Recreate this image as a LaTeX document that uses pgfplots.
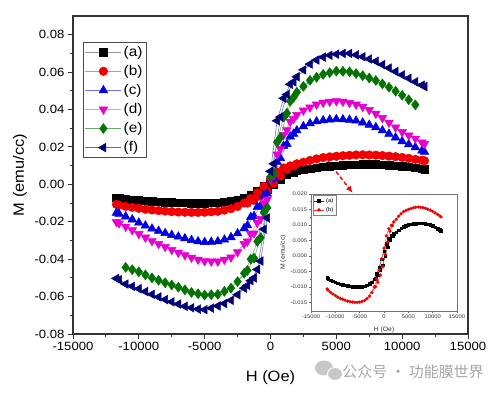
\documentclass[border=0pt]{standalone}
\usepackage{fontspec}
\setmainfont[FakeStretch=1.1]{Liberation Sans}
\newfontfamily\cjk{Noto Sans CJK SC}
\usepackage{pgfplots}
\pgfplotsset{compat=1.18}
\usepackage{pgfplotstable}
\usetikzlibrary{arrows.meta}

\definecolor{ored}{RGB}{240,0,0}
\definecolor{oblue}{RGB}{0,0,225}
\definecolor{omag}{RGB}{230,0,210}
\definecolor{ogreen}{RGB}{0,115,0}
\definecolor{onavy}{RGB}{0,0,120}

\pgfplotstableread{
H M
11700 0.0082
11000 0.0088
10000 0.0097
9000 0.0103
8000 0.0106
7000 0.0106
6000 0.0104
5000 0.0100
4000 0.0094
3000 0.0083
2000 0.0072
1500 0.0065
1000 0.0056
500 0.0040
0 0.0015
-500 -0.0010
-1000 -0.0036
-1500 -0.0058
-2000 -0.0075
-3000 -0.0090
-4000 -0.0098
-5000 -0.0100
-6000 -0.0100
-7000 -0.0098
-8000 -0.0095
-9000 -0.0091
-10000 -0.0085
-11000 -0.0078
-11700 -0.0071
-11500 -0.0073
-10500 -0.0082
-9500 -0.0088
-8500 -0.0093
-7500 -0.0097
-6500 -0.0099
-5500 -0.0100
-4500 -0.0099
-3500 -0.0094
-2500 -0.0085
-1750 -0.0074
-1250 -0.0062
-750 -0.0045
-250 -0.0030
250 0.0000
750 0.0028
1250 0.0052
1750 0.0064
2500 0.0077
3500 0.0089
4500 0.0097
5500 0.0102
6500 0.0105
7500 0.0106
8500 0.0105
9500 0.0100
10500 0.0093
11500 0.0084
}\dataA

\pgfplotstableread{
H M
11700 0.0126
11000 0.0134
10000 0.0144
9000 0.0151
8000 0.0156
7000 0.0158
6000 0.0155
5000 0.0150
4000 0.0143
3000 0.0128
2000 0.0110
1500 0.0099
1000 0.0088
500 0.0065
0 0.0025
-500 -0.0010
-1000 -0.0045
-1500 -0.0075
-2000 -0.0100
-3000 -0.0130
-4000 -0.0144
-5000 -0.0149
-6000 -0.0150
-7000 -0.0148
-8000 -0.0143
-9000 -0.0137
-10000 -0.0128
-11000 -0.0118
-11700 -0.0107
-11500 -0.0111
-10500 -0.0123
-9500 -0.0133
-8500 -0.0140
-7500 -0.0146
-6500 -0.0149
-5500 -0.0150
-4500 -0.0147
-3500 -0.0138
-2500 -0.0118
-1750 -0.0100
-1250 -0.0085
-750 -0.0062
-250 -0.0035
250 0.0005
750 0.0045
1250 0.0080
1750 0.0098
2500 0.0118
3500 0.0136
4500 0.0147
5500 0.0153
6500 0.0157
7500 0.0157
8500 0.0154
9500 0.0148
10500 0.0139
11500 0.0129
}\dataB

\pgfplotstableread{
H M
11700 0.0173
11000 0.0198
10000 0.0230
9000 0.0270
8000 0.0305
7000 0.0330
6000 0.0345
5000 0.0348
4000 0.0342
3000 0.0326
2000 0.0288
1500 0.0255
1000 0.0205
500 0.0120
0 0.0025
-500 -0.0060
-1000 -0.0120
-1500 -0.0175
-2000 -0.0235
-3000 -0.0283
-4000 -0.0305
-5000 -0.0309
-6000 -0.0298
-7000 -0.0280
-8000 -0.0261
-9000 -0.0237
-10000 -0.0205
-11000 -0.0172
-11700 -0.0152
-11500 -0.0158
-10500 -0.0188
-9500 -0.0221
-8500 -0.0249
-7500 -0.0271
-6500 -0.0289
-5500 -0.0305
-4500 -0.0308
-3500 -0.0296
-2500 -0.0262
-1750 -0.0220
-1250 -0.0170
-750 -0.0115
-250 -0.0050
250 0.0035
750 0.0140
1250 0.0215
1750 0.0270
2500 0.0310
3500 0.0336
4500 0.0346
5500 0.0347
6500 0.0340
7500 0.0318
8500 0.0288
9500 0.0250
10500 0.0214
11500 0.0180
}\dataC

\pgfplotstableread{
H M
11700 0.0217
11000 0.0245
10000 0.0280
9000 0.0330
8000 0.0378
7000 0.0415
6000 0.0436
5000 0.0445
4000 0.0437
3000 0.0412
2000 0.0372
1500 0.0335
1000 0.0265
500 0.0160
0 0.0030
-500 -0.0100
-1000 -0.0205
-1500 -0.0265
-2000 -0.0318
-3000 -0.0390
-4000 -0.0412
-5000 -0.0410
-6000 -0.0392
-7000 -0.0365
-8000 -0.0334
-9000 -0.0303
-10000 -0.0265
-11000 -0.0226
-11700 -0.0201
-11500 -0.0208
-10500 -0.0245
-9500 -0.0284
-8500 -0.0318
-7500 -0.0350
-6500 -0.0378
-5500 -0.0402
-4500 -0.0412
-3500 -0.0402
-2500 -0.0362
-1750 -0.0305
-1250 -0.0262
-750 -0.0185
-250 -0.0080
250 0.0050
750 0.0190
1250 0.0290
1750 0.0350
2500 0.0395
3500 0.0427
4500 0.0442
5500 0.0442
6500 0.0427
7500 0.0398
8500 0.0355
9500 0.0305
10500 0.0262
11500 0.0225
}\dataD

\pgfplotstableread{
H M
11000 0.0425
10000 0.0476
9000 0.0519
8000 0.0555
7000 0.0581
6000 0.0602
5000 0.0605
4000 0.0588
3000 0.0556
2000 0.0492
1500 0.0445
1000 0.0360
500 0.0225
0 0.0040
-500 -0.0150
-1000 -0.0305
-1500 -0.0400
-2000 -0.0475
-3000 -0.0555
-4000 -0.0588
-5000 -0.0592
-6000 -0.0578
-7000 -0.0550
-8000 -0.0526
-9000 -0.0500
-10000 -0.0468
-11000 -0.0444
-10500 -0.0456
-9500 -0.0484
-8500 -0.0513
-7500 -0.0538
-6500 -0.0564
-5500 -0.0585
-4500 -0.0590
-3500 -0.0572
-2500 -0.0520
-1750 -0.0460
-1250 -0.0395
-750 -0.0285
-250 -0.0125
250 0.0060
750 0.0250
1250 0.0380
1750 0.0465
2500 0.0524
3500 0.0572
4500 0.0597
5500 0.0604
6500 0.0592
7500 0.0568
8500 0.0537
9500 0.0498
10500 0.0452
}\dataE

\pgfplotstableread{
H M
11700 0.0523
11000 0.0548
10000 0.0585
9000 0.0622
8000 0.0658
7000 0.0682
6000 0.0700
5000 0.0696
4000 0.0680
3000 0.0643
2000 0.0575
1500 0.0535
1000 0.0460
500 0.0340
0 0.0070
-500 -0.0240
-1000 -0.0455
-1500 -0.0515
-2000 -0.0555
-3000 -0.0620
-4000 -0.0650
-5000 -0.0670
-6000 -0.0660
-7000 -0.0640
-8000 -0.0616
-9000 -0.0588
-10000 -0.0558
-11000 -0.0533
-11700 -0.0503
-11500 -0.0510
-10500 -0.0545
-9500 -0.0573
-8500 -0.0602
-7500 -0.0628
-6500 -0.0652
-5500 -0.0667
-4500 -0.0662
-3500 -0.0637
-2500 -0.0590
-1750 -0.0540
-1250 -0.0500
-750 -0.0410
-250 -0.0180
250 0.0110
750 0.0360
1250 0.0480
1750 0.0548
2500 0.0612
3500 0.0665
4500 0.0690
5500 0.0700
6500 0.0692
7500 0.0670
8500 0.0640
9500 0.0603
10500 0.0567
11500 0.0530
}\dataF

\begin{document}
\begin{tikzpicture}
\path[use as bounding box] (-73bp,-59bp) rectangle (424bp,334bp);
\begin{axis}[
  name=main,
  at={(0bp,0bp)}, anchor=south west,
  scale only axis, width=395bp, height=318bp,
  xmin=-15000, xmax=15000, ymin=-0.08, ymax=0.09,
  xtick={-15000,-10000,-5000,0,5000,10000,15000},
  xticklabels={-15000,-10000,-5000,0,5000,10000,15000},
  ytick={-0.08,-0.06,-0.04,-0.02,0,0.02,0.04,0.06,0.08},
  yticklabels={-0.08,-0.06,-0.04,-0.02,0.00,0.02,0.04,0.06,0.08},
  minor xtick={-12500,-7500,-2500,2500,7500,12500},
  minor ytick={-0.07,-0.05,-0.03,-0.01,0.01,0.03,0.05,0.07},
  scaled ticks=false,
  xtick pos=bottom, ytick pos=left,
  tick align=outside,
  major tick length=5bp, minor tick length=3bp,
  tick style={black!80, line width=0.9bp},
  axis line style={black!80, line width=1.2bp},
  ticklabel style={font=\fontsize{12}{14}\selectfont},
  xlabel={H (Oe)}, ylabel={M (emu/cc)},
  label style={font=\fontsize{15}{17}\selectfont},
  xlabel style={at={(axis description cs:0.5,-0.148)}, anchor=base},
  ylabel style={at={(axis description cs:-0.134,0.5)}, anchor=center},
  legend style={at={(axis description cs:0.025,0.918)}, anchor=north west,
    draw=black!70, line width=0.6bp, font=\fontsize{14}{15}\selectfont,
    row sep=3.5bp, inner sep=2bp, cells={anchor=west}},
  legend image code/.code={\draw[mark repeat=2,mark phase=2] plot coordinates {(0bp,0bp) (18bp,0bp) (36bp,0bp)};},
  every axis plot/.append style={line width=0.5bp},
]
\addplot[color=black!40, mark=square*, mark size=3.8, mark options={solid,draw=black,fill=black}] table[x=H,y=M]{\dataA};
\addlegendentry{(a)}
\addplot[color=ored!50, mark=*, mark size=4.3, mark options={solid,draw=ored,fill=ored}] table[x=H,y=M]{\dataB};
\addlegendentry{(b)}
\addplot[color=oblue!55, mark=triangle*, mark size=5, mark options={solid,draw=oblue,fill=oblue}] table[x=H,y=M]{\dataC};
\addlegendentry{(c)}
\addplot[color=omag!45, mark=triangle*, mark size=5, mark options={solid,rotate=180,draw=omag,fill=omag}] table[x=H,y=M]{\dataD};
\addlegendentry{(d)}
\addplot[color=ogreen!60, mark=diamond*, mark size=5, mark options={solid,draw=ogreen,fill=ogreen}] table[x=H,y=M]{\dataE};
\addlegendentry{(e)}
\addplot[color=onavy!60, mark=triangle*, mark size=5, mark options={solid,rotate=90,draw=onavy,fill=onavy}] table[x=H,y=M]{\dataF};
\addlegendentry{(f)}
\draw[ored, line width=1.4bp, dash pattern=on 4bp off 2.5bp, -{Latex[length=7bp,width=6bp]}] (axis cs:4370,0.0123) -- (axis cs:6250,-0.0046);
\end{axis}

\begin{axis}[
  name=inset,
  at={(238bp,23bp)}, anchor=south west,
  scale only axis, width=146bp, height=117bp,
  axis background/.style={fill=white},
  xmin=-15000, xmax=15000, ymin=-0.0178, ymax=0.020,
  xtick={-15000,-10000,-5000,0,5000,10000,15000},
  xticklabels={-15000,-10000,-5000,0,5000,10000,15000},
  ytick={-0.015,-0.01,-0.005,0,0.005,0.01,0.015,0.02},
  yticklabels={-0.015,-0.010,-0.005,0.000,0.005,0.010,0.015,0.020},
  minor xtick={-12500,-7500,-2500,2500,7500,12500},
  minor ytick={-0.0125,-0.0075,-0.0025,0.0025,0.0075,0.0125,0.0175},
  scaled ticks=false,
  xtick pos=bottom, ytick pos=left,
  tick align=outside,
  major tick length=2.2bp, minor tick length=1.3bp,
  tick style={black!60, line width=0.5bp},
  axis line style={black!55, line width=0.6bp},
  ticklabel style={font=\fontsize{5.3}{6}\selectfont, inner sep=1.5bp, text=black!80},
  xlabel={H (Oe)}, ylabel={M (emu/cc)},
  label style={font=\fontsize{6.3}{7}\selectfont, text=black!80},
  xlabel style={at={(axis description cs:0.5,-0.11)}, anchor=north},
  ylabel style={at={(axis description cs:-0.19,0.5)}, anchor=center},
  legend style={at={(axis description cs:0.012,0.99)}, anchor=north west,
    draw=black!50, line width=0.4bp, font=\fontsize{5.5}{6}\selectfont,
    row sep=-0.5bp, inner sep=0.8bp, cells={anchor=west}},
  legend image code/.code={\draw[mark repeat=2,mark phase=2] plot coordinates {(0bp,0bp) (5bp,0bp) (10bp,0bp)};},
  every axis plot/.append style={line width=0.35bp},
]
\addplot[color=black!80, mark=square*, mark size=1.3, mark options={solid,draw=black,fill=black}] table[x=H,y=M]{\dataA};
\addlegendentry{(a)}
\addplot[color=ored!80, mark=*, mark size=1.5, mark options={solid,draw=ored,fill=ored}] table[x=H,y=M]{\dataB};
\addlegendentry{(b)}
\end{axis}

\fill[black!22] (251bp,-34bp) ellipse (9bp and 7.5bp);
\fill[black!22, draw=white, line width=1bp] (262bp,-40bp) ellipse (7.5bp and 6.5bp);
\node[text=black!35, font=\cjk\fontsize{15}{15}\selectfont] at (340bp,-38bp) {公众号 · 功能膜世界};
\end{tikzpicture}
\end{document}
